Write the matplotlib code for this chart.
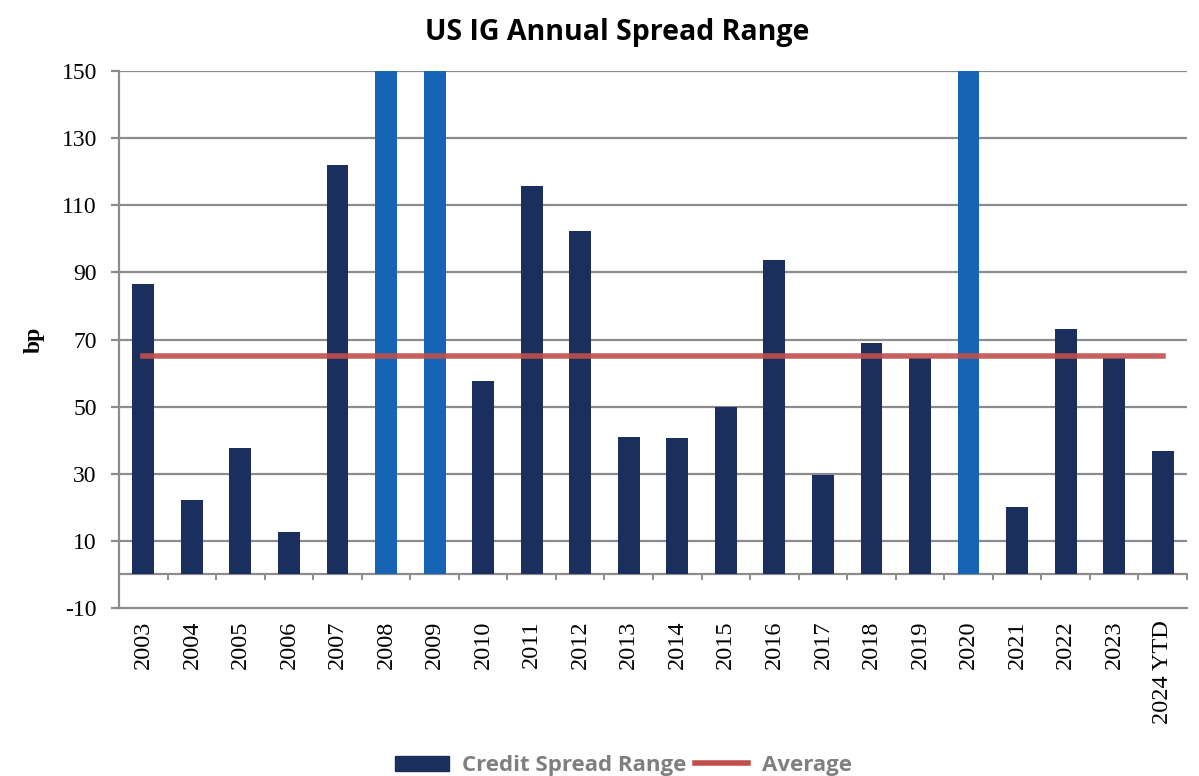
import matplotlib
matplotlib.use("Agg")
import matplotlib.pyplot as plt
import numpy as np
from matplotlib.patches import Patch
from matplotlib.lines import Line2D

# data (bp)
years = ['2003', '2004', '2005', '2006', '2007', '2008', '2009', '2010', '2011',
         '2012', '2013', '2014', '2015', '2016', '2017', '2018', '2019', '2020',
         '2021', '2022', '2023', '2024 YTD']
spread_range = [86.5, 22.2, 37.7, 12.6, 122, 300, 250, 57.7, 115.8,
                102.4, 41, 40.7, 50, 93.7, 29.6, 69, 64.4, 200,
                20.2, 73, 64.4, 36.9]
highlight = ['2008', '2009', '2020']
average = 65

navy = '#1b2f5f'
blue = '#1565b4'
red = '#c0504d'
grid_col = '#8c8c8c'

fig = plt.figure(figsize=(11.99, 7.76), dpi=100)
ax = fig.add_axes([0.0993, 0.2165, 0.8907, 0.692])

x = np.arange(len(years))
colors = [blue if y in highlight else navy for y in years]
ax.bar(x, spread_range, width=0.45, color=colors, zorder=3)

# average line runs from first to last bar centre
ax.plot([x[0], x[-1]], [average, average], color=red, lw=4, alpha=0.9, zorder=4)

ax.set_ylim(-10, 150)
ax.set_xlim(-0.5, len(years) - 0.5)
yt = np.arange(-10, 151, 20)
ax.set_yticks(yt)
ax.set_yticklabels([str(v) for v in yt], fontfamily='Liberation Serif', fontsize=17)
for v in yt[1:]:
    ax.axhline(v, color=grid_col, lw=1.6, zorder=1)

# category axis at zero with tick marks between categories
ax.axhline(0, color=grid_col, lw=1.6, zorder=2)
for b in np.arange(0.5, len(years), 1.0):
    ax.plot([b, b], [0, -1.3], color=grid_col, lw=1.4, zorder=2, clip_on=False)

ax.set_xticks(x)
ax.set_xticklabels(years, rotation=90, fontfamily='Liberation Serif', fontsize=17.5)
ax.tick_params(axis='x', length=0, pad=9)
ax.tick_params(axis='y', length=6, width=1.6, color=grid_col, pad=10)

for s in ['top', 'right']:
    ax.spines[s].set_visible(False)
for s in ['left', 'bottom']:
    ax.spines[s].set_color(grid_col)
    ax.spines[s].set_linewidth(1.6)

ax.set_ylabel('bp', fontfamily='Liberation Serif', fontweight='bold', fontsize=17, labelpad=12)

fig.text(0.515, 0.958, 'US IG Annual Spread Range', ha='center', va='center',
         fontfamily='Open Sans', fontweight='bold', fontsize=20.5)

handles = [Patch(color=navy), Line2D([0], [0], color=red, lw=4)]
leg = fig.legend(handles, ['Credit Spread Range', 'Average'], loc='lower center',
                 bbox_to_anchor=(0.52, -0.026), ncol=2, frameon=False,
                 prop={'family': 'Open Sans', 'weight': 'bold', 'size': 16},
                 handlelength=2.4, handletextpad=0.6, columnspacing=0.4)
for t in leg.get_texts():
    t.set_color('#7f7f7f')

fig.savefig('out.png', dpi=100)
